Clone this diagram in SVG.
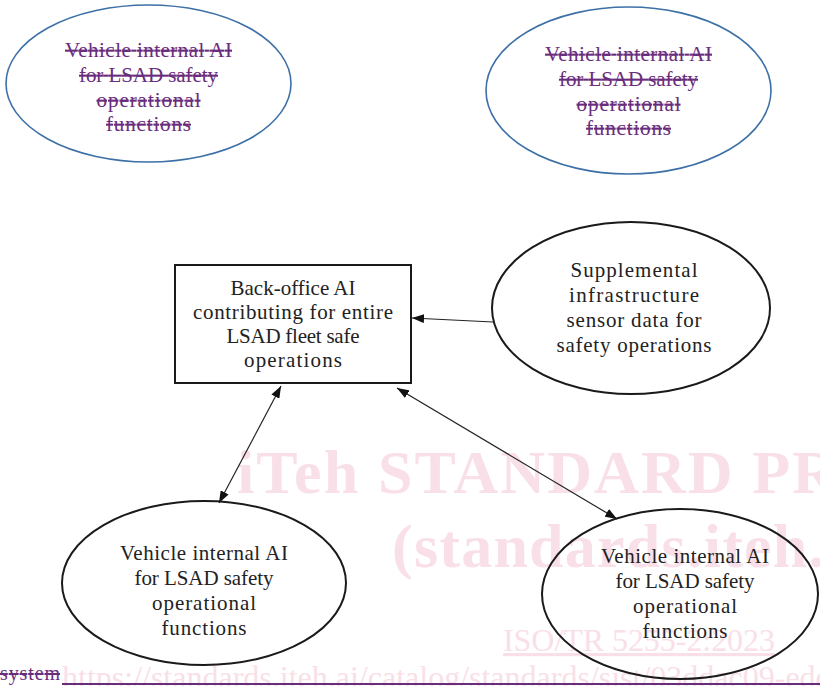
<svg xmlns="http://www.w3.org/2000/svg" width="820" height="686" viewBox="0 0 820 686">
<defs>
<style>
.wm{font-family:"Liberation Serif",serif;fill:#f9e0e8}
.wmb{font-weight:bold;font-size:62px}
.del{font-family:"Liberation Serif",serif;font-size:21px;fill:#6a2d7c;text-anchor:middle;text-decoration:line-through}
.t{font-family:"Liberation Serif",serif;font-size:21px;fill:#222;text-anchor:middle}
.eb{fill:none;stroke:#3d70a6;stroke-width:1.6}
.ek{fill:none;stroke:#1a1a1a;stroke-width:2}
.ln{fill:none;stroke:#222;stroke-width:1.2}
</style>
<marker id="ah" viewBox="0 0 12 9" refX="12" refY="4.5" markerWidth="12" markerHeight="9" markerUnits="userSpaceOnUse" orient="auto-start-reverse">
<path d="M0,0 L12,4.5 L0,9 z" fill="#111"/>
</marker>
</defs>
<rect width="820" height="686" fill="#fff"/>
<g id="watermark">
<text class="wm wmb" x="237" y="493" textLength="600">iTeh STANDARD PR</text>
<text class="wm wmb" x="392" y="567" textLength="432">(standards.iteh.</text>
<text class="wm" x="503" y="651" font-size="32" text-decoration="underline" textLength="272">ISO/TR 5255-2:2023</text>
<text class="wm" x="62" y="688" font-size="32">https://standards.iteh.ai/catalog/standards/sist/03ddac09-edd</text>
</g>
<g id="deleted-left">
<ellipse class="eb" cx="148.5" cy="83.5" rx="142.5" ry="78.5"/>
<text class="del" x="148.5" y="57" textLength="167">Vehicle internal AI</text>
<text class="del" x="148.5" y="82" textLength="139">for LSAD safety</text>
<text class="del" x="148.5" y="107" textLength="104">operational</text>
<text class="del" x="148.5" y="131" textLength="85">functions</text>
</g>
<g id="deleted-right">
<ellipse class="eb" cx="628.5" cy="90.5" rx="142.5" ry="83.5"/>
<text class="del" x="628.5" y="61" textLength="167">Vehicle internal AI</text>
<text class="del" x="628.5" y="86" textLength="139">for LSAD safety</text>
<text class="del" x="628.5" y="111" textLength="104">operational</text>
<text class="del" x="628.5" y="135" textLength="85">functions</text>
</g>
<g id="back-office">
<rect x="175" y="265" width="236" height="118" fill="none" stroke="#1a1a1a" stroke-width="2"/>
<text class="t" x="293" y="295" textLength="125">Back-office AI</text>
<text class="t" x="293" y="319" textLength="200">contributing for entire</text>
<text class="t" x="293" y="343" textLength="133">LSAD fleet safe</text>
<text class="t" x="293" y="367" textLength="98">operations</text>
</g>
<g id="supplemental">
<ellipse class="ek" cx="631" cy="308" rx="139" ry="86"/>
<text class="t" x="634" y="277" textLength="127">Supplemental</text>
<text class="t" x="634" y="302" textLength="130">infrastructure</text>
<text class="t" x="634" y="327" textLength="135">sensor data for</text>
<text class="t" x="634" y="352" textLength="155">safety operations</text>
</g>
<g id="vehicle-left">
<ellipse class="ek" cx="204" cy="583" rx="142" ry="82"/>
<text class="t" x="204" y="560" textLength="168">Vehicle internal AI</text>
<text class="t" x="204" y="585" textLength="139">for LSAD safety</text>
<text class="t" x="204" y="610" textLength="104">operational</text>
<text class="t" x="204" y="635" textLength="85">functions</text>
</g>
<g id="vehicle-right">
<ellipse class="ek" cx="680" cy="594" rx="138" ry="85"/>
<text class="t" x="685" y="563" textLength="168">Vehicle internal AI</text>
<text class="t" x="685" y="588" textLength="139">for LSAD safety</text>
<text class="t" x="685" y="613" textLength="104">operational</text>
<text class="t" x="685" y="638" textLength="85">functions</text>
</g>
<g id="connectors">
<line class="ln" x1="493" y1="322" x2="412" y2="318" marker-end="url(#ah)"/>
<line class="ln" x1="219" y1="503" x2="281" y2="386" marker-start="url(#ah)" marker-end="url(#ah)"/>
<line class="ln" x1="397" y1="388" x2="617" y2="519" marker-start="url(#ah)" marker-end="url(#ah)"/>
</g>
<g id="footer">
<text x="0" y="680" font-family="Liberation Serif, serif" font-size="20" fill="#6a2d7c" text-decoration="line-through" textLength="60">system</text>
<line x1="62" y1="684" x2="820" y2="684" stroke="#6a2d7c" stroke-width="2"/>
</g>
</svg>
